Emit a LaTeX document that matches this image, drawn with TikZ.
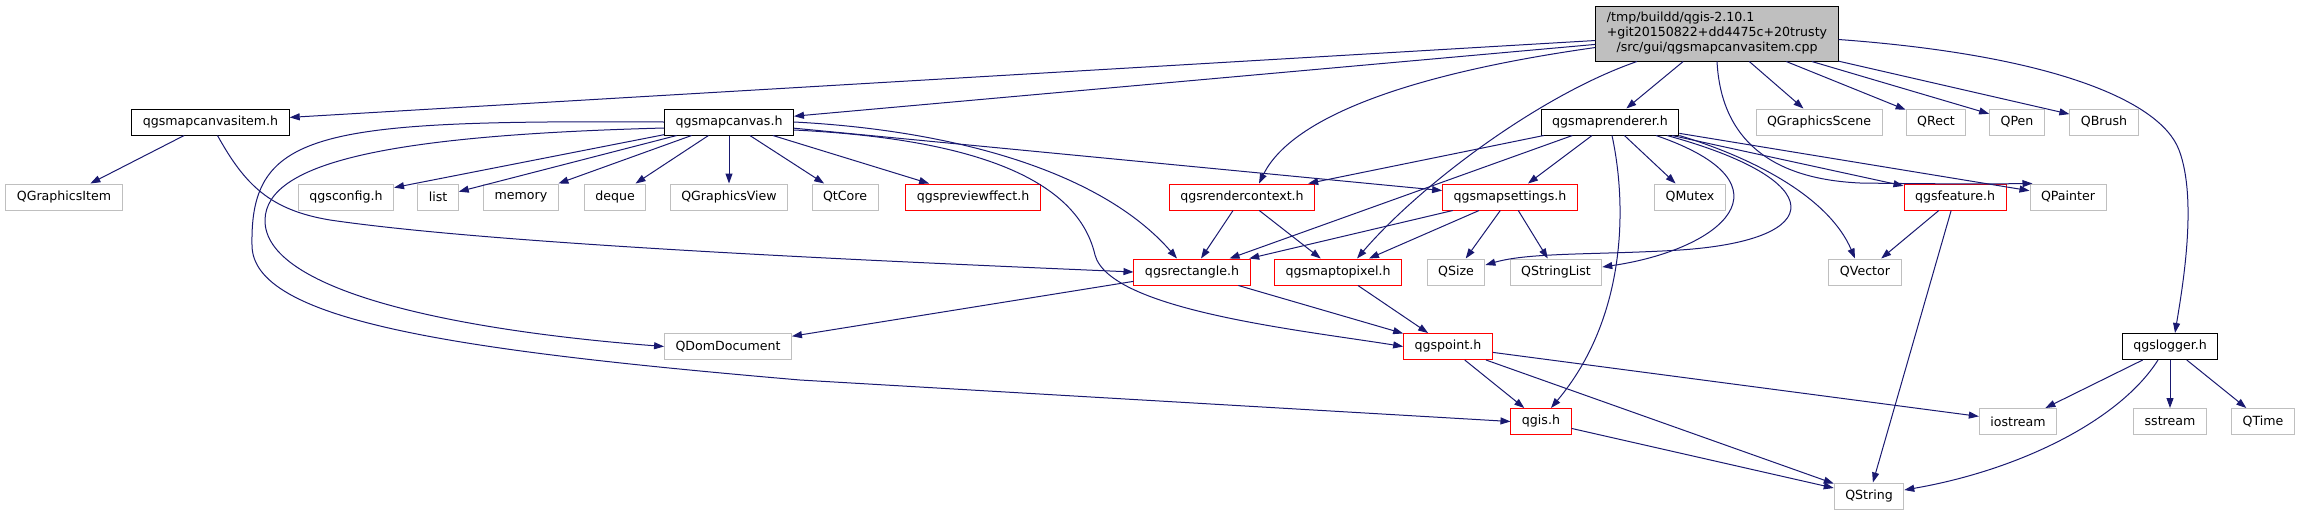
\documentclass[tikz,border=0pt]{standalone}
\usepackage{fontspec}
\setmainfont{DejaVu Sans}
\usetikzlibrary{arrows.meta}
\definecolor{depblue}{HTML}{191970}
\definecolor{extgray}{HTML}{BFBFBF}

\begin{document}
\begin{tikzpicture}[x=1pt,y=-1pt,>={Triangle[length=10pt,width=7pt]},
  incbox/.style={draw,fill=white,line width=1pt,minimum height=26pt,inner xsep=11pt,inner ysep=0pt,font=\fontsize{12.6}{15}\selectfont},
  hdr/.style={incbox,draw=black},
  trunc/.style={incbox,draw=red},
  ext/.style={incbox,draw=extgray},
  srcfile/.style={incbox,fill=extgray,draw=black,minimum height=55pt,align=center},
  dep/.style={->,depblue,line width=1pt}]
\useasboundingbox (0,0) rectangle (2299,515);
\node[srcfile] (root) at (1717,33.5) {\rlap{/tmp/buildd/qgis-2.10.1}\phantom{+git20150822+dd4475c+20trusty}\\+git20150822+dd4475c+20trusty\\/src/gui/qgsmapcanvasitem.cpp};
\foreach \n/\x/\y/\s/\t in {
  mci/210.5/122/hdr/qgsmapcanvasitem.h, mc/729/122/hdr/qgsmapcanvas.h, mr/1610/122/hdr/qgsmaprenderer.h,
  gscene/1819/122/ext/QGraphicsScene, rect/1936/122/ext/QRect, pen/2017/122/ext/QPen, brush/2104/122/ext/QBrush,
  gitem/64/197/ext/QGraphicsItem, config/346/197/ext/qgsconfig.h, list/438/197/ext/list, memory/521/197/ext/memory,
  deque/615/197/ext/deque, gview/729/197/ext/QGraphicsView, qtcore/845/197/ext/QtCore,
  preview/973/197/trunc/qgspreviewffect.h, rc/1242/197/trunc/qgsrendercontext.h, ms/1510/197/trunc/qgsmapsettings.h,
  mutex/1690/197/ext/QMutex, feature/1955/197/trunc/qgsfeature.h, painter/2068/197/ext/QPainter,
  rectangle/1192/272/trunc/qgsrectangle.h, m2p/1338/272/trunc/qgsmaptopixel.h, qsize/1456/272/ext/QSize,
  slist/1556/272/ext/QStringList, qvector/1865/272/ext/QVector,
  dom/728/346.5/ext/QDomDocument, qpoint/1448/346.5/trunc/qgspoint.h, logger/2170/346.5/hdr/qgslogger.h,
  qgis/1541/421.5/trunc/qgis.h, iostream/2018/421.5/ext/iostream, sstream/2170/421.5/ext/sstream,
  qtime/2263/421.5/ext/QTime, qstring/1869/496/ext/QString}
  \node[\s] (\n) at (\x,\y) {\t};
\foreach \a/\b in {root/mci,root/mc,root/mr,root/gscene,root/rect,root/pen,root/brush,mci/gitem,
  mc/config,mc/list,mc/memory,mc/deque,mc/gview,mc/qtcore,mc/preview,mc/ms,
  mr/rc,mr/rectangle,mr/ms,mr/mutex,mr/feature,mr/painter,rc/rectangle,rc/m2p,
  ms/rectangle,ms/m2p,ms/qsize,ms/slist,feature/qvector,feature/qstring,rectangle/dom,rectangle/qpoint,
  m2p/qpoint,qpoint/qgis,qpoint/qstring,qpoint/iostream,qgis/qstring,logger/iostream,logger/sstream,logger/qtime}
  \draw[dep] (\a) -- (\b);
\draw[dep] ([yshift=-14pt]root.west) .. controls (1400,75) and (1290,120) .. ([xshift=17pt]rc.north);
\draw[dep] ([xshift=-80pt]root.south) .. controls (1540,95) and (1420,185) .. ([xshift=19pt]m2p.north);
\draw[dep] (root.south) .. controls (1720,120) and (1750,178) .. (1860,183) .. controls (1930,184) and (1990,184) .. ([xshift=3pt]painter.north west);
\draw[dep] ([yshift=-6pt]root.east) .. controls (2050,55) and (2160,100) .. (2179,150) .. controls (2198,200) and (2182,290) .. ([xshift=5pt]logger.north);
\draw[dep] ([xshift=7pt]mci.south) .. controls (245,185) and (270,210) .. (330,220) .. controls (500,245) and (900,262) .. (rectangle.west);
\draw[dep] (mc.east) .. controls (950,130) and (1100,170) .. ([xshift=-15pt]rectangle.north);
\draw[dep] ([yshift=-8pt]mc.east) .. controls (1000,140) and (1080,190) .. (1095,255) .. controls (1110,310) and (1300,330) .. (qpoint.west);
\draw[dep] ([yshift=-6pt]mc.west) .. controls (400,135) and (266,160) .. (265,220) .. controls (264,290) and (450,330) .. (dom.west);
\draw[dep] (mc.west) .. controls (320,120) and (250,130) .. (252,245) .. controls (252,320) and (450,350) .. (800,380) -- (qgis.west);
\draw[dep] ([xshift=2pt]mr.south) .. controls (1628,210) and (1625,320) .. ([xshift=10pt]qgis.north);
\draw[dep] ([xshift=46pt]mr.south) .. controls (1800,185) and (1720,250) .. ([yshift=5pt]slist.east);
\draw[dep] ([xshift=57pt]mr.south) .. controls (1830,180) and (1830,240) .. (1680,250) .. controls (1600,255) and (1530,252) .. ([yshift=7pt]qsize.east);
\draw[dep] (mr.south east) .. controls (1760,160) and (1830,200) .. ([xshift=-10pt]qvector.north);
\draw[dep] ([xshift=-12pt]logger.south) .. controls (2120,420) and (2020,470) .. ([yshift=6pt]qstring.east);
\end{tikzpicture}
\end{document}
